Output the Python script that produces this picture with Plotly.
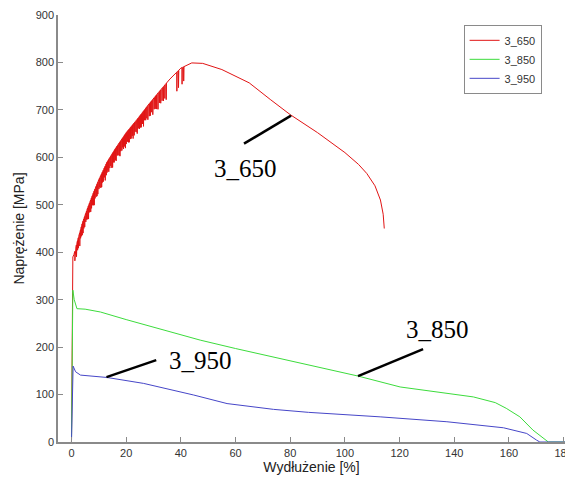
import numpy as np
import plotly.graph_objects as go

# ---- data ----
# 3_650 upper envelope
x650 = [0.0, 0.3, 0.5, 0.9, 2, 4, 6, 8, 10, 13, 16, 20, 24, 28, 32, 36, 40, 44, 48, 55, 65, 72.7, 80, 90, 100, 105, 108, 111, 113, 114, 114.4]
y650 = [0, 200, 390, 395, 420, 462, 495, 525, 553, 590, 618, 652, 680, 710, 738, 765, 788, 799, 798, 785, 757, 722, 690, 652, 610, 585, 566, 540, 510, 480, 450]
# serration (stress drop) positions and depths for 3_650
drop_x = [1.2, 1.5, 1.8, 2.2, 2.5, 3, 3.3, 3.6, 3.9, 4.2, 4.5, 4.8, 5.2, 5.5, 5.9, 6.2, 6.6, 7, 7.3, 7.6, 8, 8.3, 8.6, 9, 9.3, 9.6, 10, 10.3, 10.7, 11, 11.3, 11.6, 12, 12.3, 12.7, 13, 13.3, 13.6, 14, 14.3, 14.7, 15, 15.3, 15.6, 16, 16.3, 16.7, 17, 17.4, 17.7, 18, 18.4, 18.7, 19, 19.4, 19.7, 20, 20.4, 20.8, 21.1, 21.5, 21.8, 22.2, 22.5, 22.9, 23.2, 23.6, 24, 24.4, 24.8, 25.2, 25.5, 25.9, 26.3, 26.7, 27.1, 27.5, 27.9, 28.4, 28.8, 29.3, 29.7, 30.2, 30.6, 31.1, 31.6, 32.1, 32.6, 33.1, 33.6, 34.1, 34.6, 38.5, 39.1, 40.4, 41]
drop_d = [20, 18, 25, 20, 22, 28, 18, 20, 24, 25, 20, 22, 18, 18, 24, 28, 20, 25, 22, 20, 26, 30, 20, 22, 25, 25, 20, 20, 26, 28, 22, 24, 20, 30, 24, 22, 20, 26, 22, 20, 28, 30, 22, 25, 24, 28, 20, 22, 26, 30, 22, 24, 20, 26, 24, 30, 24, 22, 26, 28, 24, 25, 22, 30, 26, 20, 24, 30, 22, 26, 26, 28, 24, 32, 22, 25, 24, 30, 26, 28, 24, 32, 24, 26, 30, 34, 24, 28, 26, 30, 28, 34, 40, 36, 35, 30]

x850 = [0.0, 0.2, 0.5, 1.0, 2.0, 5, 10.6, 20, 30, 47.1, 60, 80, 104.8, 120.2, 135, 147, 155, 159, 164, 168.8, 174.4, 180.5]
y850 = [0, 200, 320, 300, 281, 280, 274, 258, 242, 214.7, 197, 171, 139, 116, 105, 95, 83, 71, 53, 25, 0, 0]

x950 = [0.0, 0.3, 0.6, 1.5, 3.3, 13, 26.4, 44.7, 56.9, 73.9, 86.7, 112.9, 137.3, 158, 166.5, 170.1, 171.3, 180.5]
y950 = [0, 130, 160, 148, 141, 136, 123.5, 99, 81, 68.8, 62.5, 53, 42.7, 30, 18, 4, 0, 0]

# build serrated 3_650 series from envelope + drop list
sx, sy = [], []
ex = np.array(x650, dtype=float)
ey = np.array(y650, dtype=float)
pts = sorted(set(x650) | set(drop_x) | set(round(d + 0.15, 3) for d in drop_x))
drops = dict(zip(drop_x, drop_d))
for p in pts:
    base = float(np.interp(p, ex, ey))
    if p in drops:
        sx += [p, p + 0.04]
        sy += [base, base - drops[p]]
    else:
        sx.append(p)
        sy.append(base)

fig = go.Figure()
fig.add_trace(go.Scatter(x=sx, y=sy, mode="lines", name="3_650",
                         line=dict(color="rgb(225,20,20)", width=1)))
fig.add_trace(go.Scatter(x=x850, y=y850, mode="lines", name="3_850",
                         line=dict(color="rgb(60,220,60)", width=1)))
fig.add_trace(go.Scatter(x=x950, y=y950, mode="lines", name="3_950",
                         line=dict(color="rgb(70,70,200)", width=1)))

# callout labels
labels = [("3_650", 63.6, 577, 63.1, 628.8, 80.3, 688),
          ("3_850", 133.7, 238, 104.8, 139, 128.6, 195.8),
          ("3_950", 47.1, 172.6, 12.8, 136.8, 31.0, 172.6)]
for t, tx, ty, x0, y0, x1, y1 in labels:
    fig.add_annotation(x=tx, y=ty, text=t, showarrow=False,
                       font=dict(family="Liberation Serif", size=25, color="black"))
    fig.add_shape(type="line", x0=x0, y0=y0, x1=x1, y1=y1,
                  line=dict(color="black", width=2.5))

axis_common = dict(showgrid=False, zeroline=False, showline=True,
                   linecolor="#8a8a8a", linewidth=1.5, ticks="inside",
                   ticklen=5, tickcolor="#8a8a8a", mirror=False, automargin=False,
                   ticklabeloverflow="allow",
                   tickfont=dict(family="Liberation Sans", size=11, color="#333"))

fig.update_layout(
    width=565, height=479,
    margin=dict(l=58, r=0, t=15, b=37),
    paper_bgcolor="white", plot_bgcolor="white",
    xaxis=dict(range=[-4.93, 180.5], tickvals=[0, 20, 40, 60, 80, 100, 120, 140, 160, 180],
               title=dict(text="Wydłużenie [%]", standoff=2,
                          font=dict(family="Liberation Sans", size=14, color="#222")),
               **axis_common),
    yaxis=dict(range=[0, 900], tickvals=[0, 100, 200, 300, 400, 500, 600, 700, 800, 900],
               title=dict(text="Naprężenie [MPa]", standoff=8,
                          font=dict(family="Liberation Sans", size=14, color="#222")),
               **axis_common),
    legend=dict(x=0.80, y=0.977, xanchor="left", yanchor="top",
                bordercolor="#8a8a8a", borderwidth=1, bgcolor="white",
                font=dict(family="Liberation Sans", size=11, color="#333"),
                itemwidth=30, tracegroupgap=0),
    showlegend=True,
)

fig.write_html("out.html", config={"displayModeBar": False},
               post_script="document.body.style.margin='0px';document.body.style.overflow='hidden';")
